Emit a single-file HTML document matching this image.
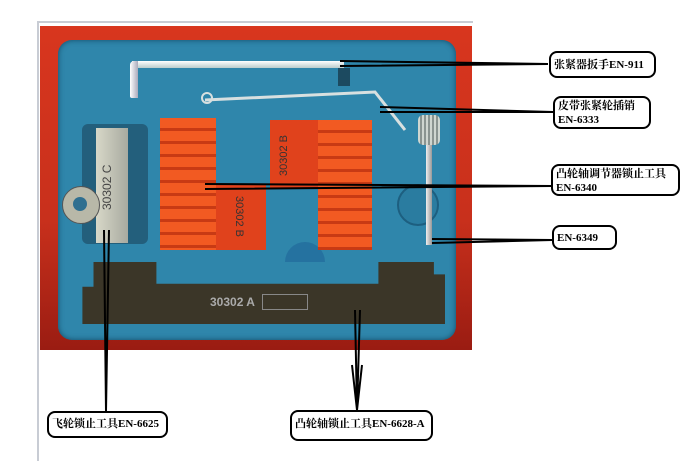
<!DOCTYPE html>
<html><head><meta charset="utf-8"><style>
body{margin:0;width:695px;height:468px;background:#fff;position:relative;overflow:hidden;font-family:"Liberation Serif","Noto Serif CJK SC",serif}
.a{position:absolute}
.lb{position:absolute;border:2px solid #000;border-radius:8px;background:#fff;font-size:11px;font-weight:bold;line-height:14px;padding:1px 3px;box-sizing:border-box;white-space:nowrap}
</style></head><body>
<div class="a" style="left:37px;top:21px;width:436px;height:2px;background:#c8ccd4"></div>
<div class="a" style="left:37px;top:21px;width:2px;height:440px;background:#c8ccd4"></div>
<div class="a" style="left:40px;top:26px;width:432px;height:324px;background:linear-gradient(#d8361e,#c8301c 60%,#9a1c12);"></div>
<div class="a" style="left:58px;top:40px;width:398px;height:300px;background:#2f86ab;border-radius:14px;box-shadow:inset 0 0 6px #134a66"></div>
<!-- wrench -->
<div class="a" style="left:132px;top:61px;width:212px;height:7px;background:linear-gradient(#fff,#bcc)"></div>
<div class="a" style="left:130px;top:61px;width:8px;height:37px;background:linear-gradient(90deg,#fff,#aab);border-radius:4px 0 0 2px"></div>
<div class="a" style="left:338px;top:68px;width:12px;height:18px;background:#1c4a60"></div>
<!-- pin wire -->
<svg class="a" style="left:0;top:0" width="695" height="468">
<path d="M205 100 L375 92 L405 130" stroke="#d8e0e0" stroke-width="3" fill="none"/>
<circle cx="207" cy="98" r="5" stroke="#d8e0e0" stroke-width="2" fill="none"/>
<circle cx="418" cy="205" r="20" fill="#2a7ca0" stroke="#1d5f80" stroke-width="2"/>
<path d="M285 262 A20 20 0 0 1 325 262 Z" fill="#2572a0"/>
</svg>
<!-- flywheel tool -->
<div class="a" style="left:82px;top:124px;width:66px;height:120px;background:#235f7c;border-radius:6px"></div>
<div class="a" style="left:96px;top:128px;width:32px;height:115px;background:linear-gradient(90deg,#d8d8c8,#a8aaa0)"></div>
<div class="a" style="left:62px;top:186px;width:36px;height:36px;border-radius:50%;background:#b8b8a8;border:1px solid #555"></div>
<div class="a" style="left:73px;top:197px;width:14px;height:14px;border-radius:50%;background:#2f6f90"></div>
<div class="a" style="left:100px;top:145px;font:12px 'Liberation Sans';color:#444;transform:rotate(-90deg);transform-origin:left top;top:210px">30302 C</div>
<!-- red blocks -->
<div class="a" style="left:214px;top:184px;width:52px;height:66px;background:#e0421c"></div>
<div class="a" style="left:270px;top:120px;width:50px;height:68px;background:#e0421c"></div>
<div class="a" style="left:160px;top:118px;width:56px;height:132px;background:repeating-linear-gradient(#f25a22 0 10px,#c83a14 10px 13px)"></div>
<div class="a" style="left:318px;top:120px;width:54px;height:130px;background:repeating-linear-gradient(#f25a22 0 10px,#c83a14 10px 13px)"></div>
<div class="a" style="left:278px;top:176px;font:11px 'Liberation Sans';color:#333;transform:rotate(-90deg);transform-origin:left top">30302 B</div>
<div class="a" style="left:245px;top:196px;font:11px 'Liberation Sans';color:#333;transform:rotate(90deg);transform-origin:left top">30302 B</div>
<!-- pin 6349 -->
<div class="a" style="left:418px;top:115px;width:22px;height:30px;border-radius:5px;background:repeating-linear-gradient(90deg,#cfd6d0 0 2px,#8a9490 2px 4px)"></div>
<div class="a" style="left:426px;top:145px;width:6px;height:100px;background:linear-gradient(90deg,#eee,#999)"></div>
<!-- bottom bar -->
<div class="a" style="left:75px;top:262px;width:370px;height:62px;background:#3b3628;clip-path:polygon(5% 0,22% 0,22% 35%,82% 35%,82% 0,97% 0,97% 20%,100% 20%,100% 100%,2% 100%,2% 40%,5% 40%)"></div>
<div class="a" style="left:210px;top:295px;font:bold 12px 'Liberation Sans';color:#aaa">30302 A</div>
<div class="a" style="left:262px;top:294px;width:44px;height:14px;border:1px solid #888"></div>
<!-- callouts -->
<svg class="a" style="left:0;top:0" width="695" height="468">
<g stroke="#000" stroke-width="2" fill="none">
<path d="M340 61 L548 64 M340 66 L548 64"/>
<path d="M380 107 L553 112 M380 112 L553 112"/>
<path d="M205 184 L552 186 M205 189 L552 186"/>
<path d="M432 239 L552 240 M432 243 L552 240"/>
<path d="M104 230 L106 411 M109 230 L106 411"/>
<path d="M355 310 L357 410 M360 310 L357 410 M352 365 L357 410 L362 365"/>
</g></svg>
<div class="lb" style="left:549px;top:51px;width:107px;height:27px;padding-top:5px">张紧器扳手EN-911</div>
<div class="lb" style="left:553px;top:96px;width:98px;height:33px">皮带张紧轮插销<br>EN-6333</div>
<div class="lb" style="left:551px;top:164px;width:129px;height:32px">凸轮轴调节器锁止工具<br>EN-6340</div>
<div class="lb" style="left:552px;top:225px;width:65px;height:25px;padding-top:4px">EN-6349</div>
<div class="lb" style="left:47px;top:411px;width:121px;height:27px;padding-top:4px">飞轮锁止工具EN-6625</div>
<div class="lb" style="left:290px;top:410px;width:143px;height:31px;padding-top:5px">凸轮轴锁止工具EN-6628-A</div>
</body></html>
